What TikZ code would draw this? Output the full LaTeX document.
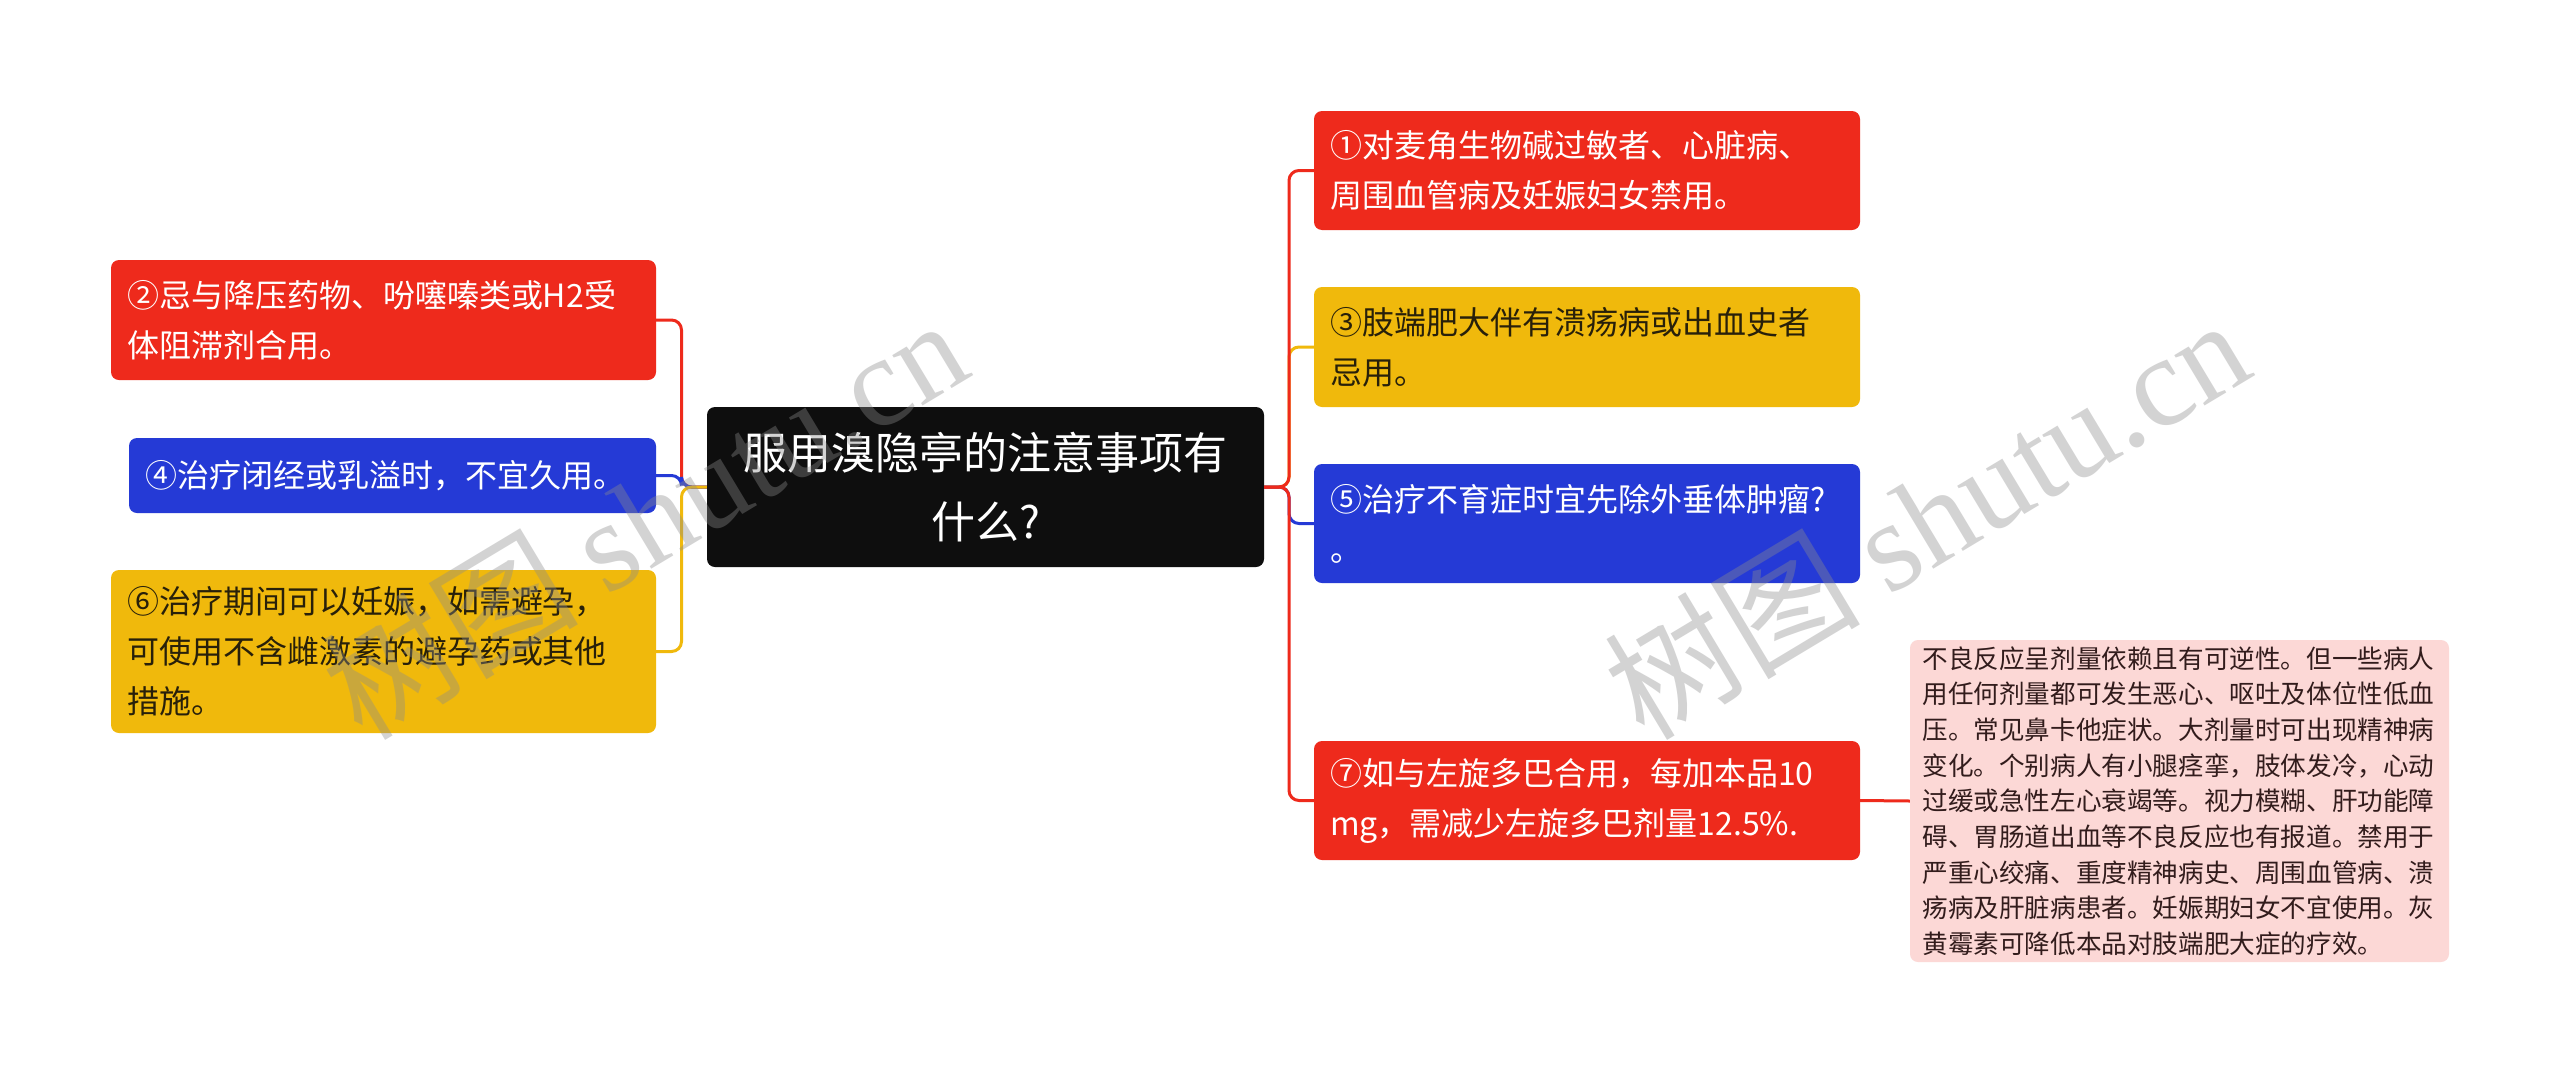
\documentclass[tikz,border=0pt]{standalone}
\usepackage{fontspec}
\setmainfont{Noto Sans CJK SC}
\newfontfamily\wmserif{Liberation Serif}
\newfontfamily\wmcjk{Noto Sans CJK SC}
\definecolor{mred}{RGB}{238,42,28}
\definecolor{myel}{RGB}{240,185,12}
\definecolor{mblue}{RGB}{37,58,214}
\definecolor{mblack}{RGB}{14,14,14}
\definecolor{mpink}{RGB}{252,216,214}
\definecolor{ytext}{RGB}{40,32,10}
\definecolor{ptext}{RGB}{50,28,28}
\begin{document}
\begin{tikzpicture}[x=1pt,y=-1pt,
  box/.style={rounded corners=8pt, inner ysep=0pt, inner xsep=16pt, align=left, anchor=center},
  sub/.style={box, font=\fontsize{32}{50}\selectfont},
  conn/.style={line width=3pt, rounded corners=10pt},
  wm/.style={text=black!45, opacity=0.38, rotate=31, font=\fontsize{128}{128}\selectfont}
]
\useasboundingbox[fill=white] (0,0) rectangle (2560,1074);

% center
\node[box, fill=mblack, text=white, align=center, text width=525pt, minimum height=160pt,
  font=\fontsize{44}{69}\selectfont] (c) at (985.5,487) {服用溴隐亭的注意事项有\\什么?};

% right children
\node[sub, fill=mred, text=white, text width=514pt, minimum height=119pt] (r1) at (1587,170.5)
  {①对麦角生物碱过敏者、心脏病、\\周围血管病及妊娠妇女禁用。};
\node[sub, fill=myel, text=ytext, text width=514pt, minimum height=120pt] (r3) at (1587,347)
  {③肢端肥大伴有溃疡病或出血史者\\忌用。};
\node[sub, fill=mblue, text=white, text width=514pt, minimum height=119pt] (r5) at (1587,523.5)
  {⑤治疗不育症时宜先除外垂体肿瘤?\\。};
\node[sub, fill=mred, text=white, text width=514pt, minimum height=119pt] (r7) at (1587,800.5)
  {⑦如与左旋多巴合用，每加本品10\\mg，需减少左旋多巴剂量12.5\%.};

% pink note
\node[box, fill=mpink, text=ptext, inner xsep=12.5pt, text width=514pt, minimum height=322pt,
  font=\fontsize{25.6}{35.7}\selectfont] (p) at (2179.5,801)
  {不良反应呈剂量依赖且有可逆性。但一些病人\\用任何剂量都可发生恶心、呕吐及体位性低血\\压。常见鼻卡他症状。大剂量时可出现精神病\\变化。个别病人有小腿痉挛，肢体发冷，心动\\过缓或急性左心衰竭等。视力模糊、肝功能障\\碍、胃肠道出血等不良反应也有报道。禁用于\\严重心绞痛、重度精神病史、周围血管病、溃\\疡病及肝脏病患者。妊娠期妇女不宜使用。灰\\黄霉素可降低本品对肢端肥大症的疗效。};

% left children
\node[sub, fill=mred, text=white, text width=513pt, minimum height=120pt] (l2) at (383.5,320)
  {②忌与降压药物、吩噻嗪类或H2受\\体阻滞剂合用。};
\node[sub, fill=mblue, text=white, text width=495pt, minimum height=75pt] (l4) at (392.5,475.5)
  {④治疗闭经或乳溢时，不宜久用。};
\node[sub, fill=myel, text=ytext, text width=513pt, minimum height=163pt] (l6) at (383.5,651.5)
  {⑥治疗期间可以妊娠，如需避孕，\\可使用不含雌激素的避孕药或其他\\措施。};

% trunks
\coordinate (rt) at (1289,487);
\coordinate (lt) at (681.5,487);

\draw[conn, myel] (c.east) -- (rt) |- (r3.west);
\draw[conn, mblue] (c.east) -- (rt) |- (r5.west);
\draw[conn, mred] (c.east) -- (rt) |- (r7.west);
\draw[conn, mred] (c.east) -- (rt) |- (r1.west);
\draw[conn, mred] (r7.east) -- (p.west);

\draw[conn, mred] (c.west) -- (lt) |- (l2.east);
\draw[conn, mblue] (c.west) -- (lt) |- (l4.east);
\draw[conn, myel] (c.west) -- (lt) |- (l6.east);

% watermarks
\node[wm] (w1) at (644,517) {\wmcjk 树图 \wmserif shutu.cn};
\node[wm] (w2) at (1926,517) {\wmcjk 树图 \wmserif shutu.cn};
\end{tikzpicture}
\end{document}
